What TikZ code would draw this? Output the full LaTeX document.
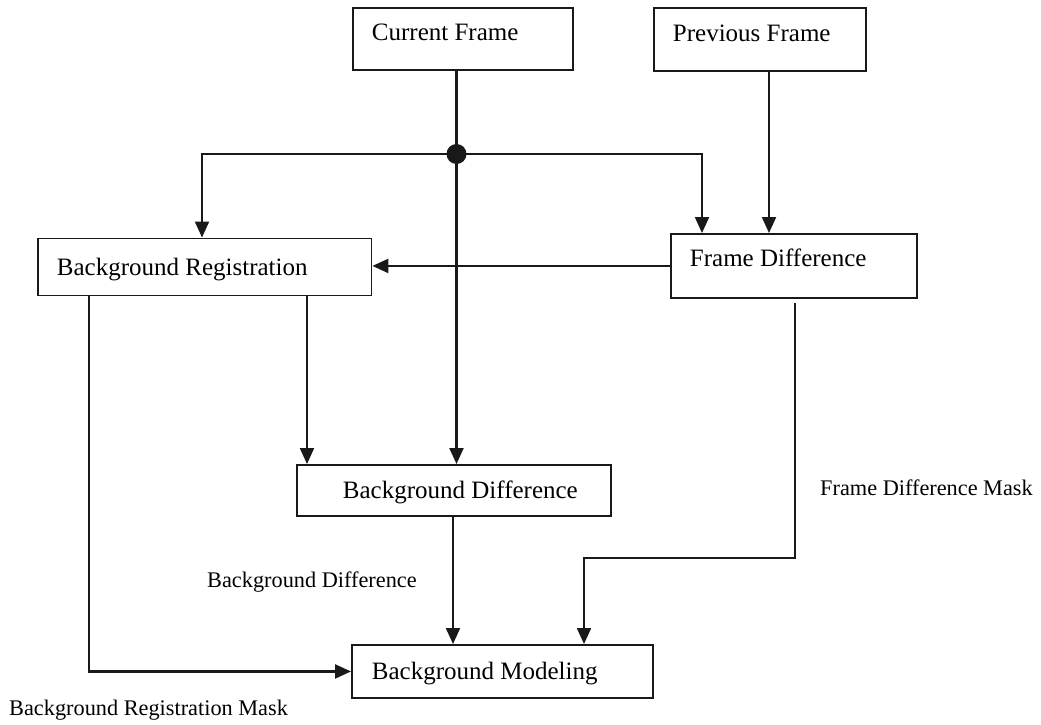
\documentclass[tikz,border=0pt]{standalone}
\usepackage{fontspec}
\setmainfont{Liberation Serif}
\usetikzlibrary{arrows.meta,calc}
\begin{document}
\begin{tikzpicture}[x=1pt,y=-1pt,
  line/.style={line width=2.2pt,draw=black!90},
  arr/.style={line,-{Triangle[length=16pt,width=14pt]}},
  box/.style={draw=black!90,line width=1.9pt,rectangle,anchor=north west,align=flush left,
    inner ysep=0pt,font=\fontsize{25}{30}\selectfont,text height=16.5pt,text depth=0pt},
  lbl/.style={inner sep=0pt,anchor=base west,font=\fontsize{22.3}{26}\selectfont},
  dotn/.style={circle,fill=black!90,minimum size=20pt,inner sep=0pt}]
\useasboundingbox (0,0) rectangle (1041,725);
% boxes
\node[box,minimum width=220pt,minimum height=62pt,inner xsep=19pt,text width=182pt,text depth=12.5pt] (cur) at (352,7) {Current Frame};
\node[box,minimum width=212pt,minimum height=63pt,inner xsep=19pt,text width=174pt,text depth=12.5pt] (prev) at (653,7) {Previous Frame};
\node[box,minimum width=333.5pt,minimum height=57pt,inner xsep=19pt,text width=295.5pt] (reg) at (37,237.5) {Background Registration};
\node[box,minimum width=246pt,minimum height=64pt,inner xsep=19pt,text width=208pt,text depth=14.5pt] (fd) at (670,233) {Frame Difference};
\node[box,minimum width=314pt,minimum height=51pt,inner xsep=10pt,text width=294pt] (bd) at (296,464) {\hspace*{36pt}Background Difference};
\node[box,minimum width=301pt,minimum height=53pt,inner xsep=20pt,text width=261pt] (bm) at (351,644) {Background Modeling};
% junction
\node[dotn] (dot) at (456.5,154) {};
% labels
\node[lbl] (lbd) at (207,587) {Background Difference};
\node[lbl] (lfdm) at (820,495) {Frame Difference Mask};
\node[lbl] (lbrm) at (9,715) {Background Registration Mask};
% connectors
\draw[line] ($(cur.south west)+(104.5,0)$) -- (dot.center);
\draw[arr] (dot.center) -| ($(reg.north west)+(165,0)$);
\draw[arr] (dot.center) -| ($(fd.north west)+(32,0)$);
\draw[arr] (dot.center) -- (dot.center |- bd.north);
\draw[arr] ($(prev.south west)+(116,0)$) -- ($(fd.north west)+(99,0)$);
\draw[arr] (fd.west) -- (fd.west -| reg.east);
\draw[arr] ($(reg.south west)+(270,0)$) -- ($(bd.north west)+(11,0)$);
\draw[arr] ($(bd.south west)+(157,0)$) -- ($(bm.north west)+(102,0)$);
\draw[arr] ($(reg.south west)+(52,0)$) |- (bm.west);
\draw[arr] ($(fd.south west)+(125,4)$) -- ++(0,255) -| ($(bm.north west)+(233,0)$);
\end{tikzpicture}
\end{document}
